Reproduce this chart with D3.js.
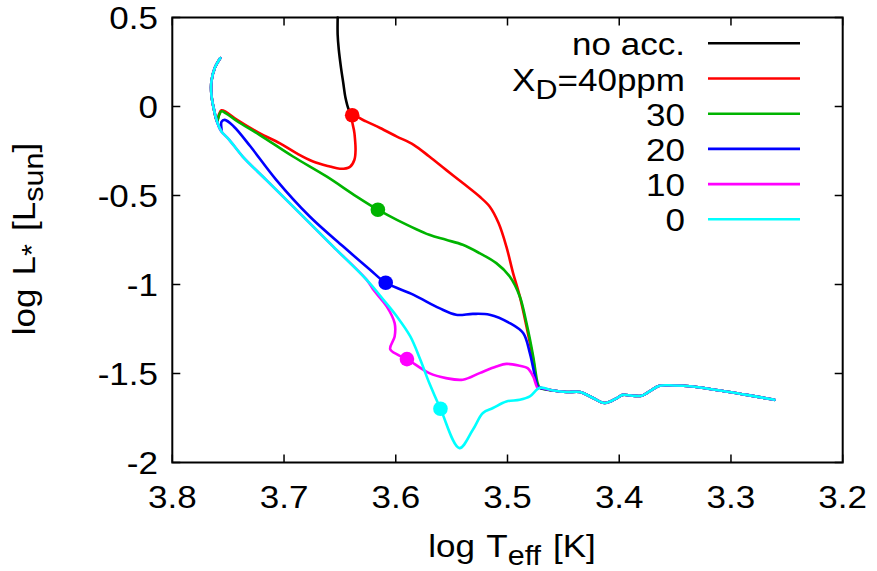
<!DOCTYPE html>
<html><head><meta charset="utf-8">
<script src="https://cdn.jsdelivr.net/npm/d3@7/dist/d3.min.js"></script>
<style>
body{margin:0;background:#fff}
text{font-family:"Liberation Sans",Arial,Helvetica,sans-serif;fill:#000}
</style>
</head><body>
<svg id="chart" width="877" height="571"></svg>
<script>
// ---- axis ticks ----
const xTicks = [3.8, 3.7, 3.6, 3.5, 3.4, 3.3, 3.2];
const yTicks = [0.5, 0, -0.5, -1, -1.5, -2];

// ---- series names and colours (legend order) ----
const seriesKeys   = ["noacc", "xd40", "xd30", "xd20", "xd10", "xd0"];
const seriesColors = ["#000000", "#ff0000", "#00b400", "#0000ff", "#ff00ff", "#00ffff"];

// ---- tracks: [log Teff, log L] ----
// shared low-mass path, from the start (right) to the branching point
const sharedStart = [
  [3.261,-1.648],[3.286,-1.620],[3.310,-1.596],[3.334,-1.573],[3.352,-1.567],
  [3.364,-1.569],[3.373,-1.601],[3.380,-1.625],[3.388,-1.625],[3.397,-1.620],
  [3.402,-1.638],[3.413,-1.666],[3.426,-1.629],[3.435,-1.604],[3.447,-1.604],
  [3.459,-1.596],[3.471,-1.580]
];
// shared final rise at the hot edge
const sharedEnd = [
  [3.760,-0.084],[3.763,-0.009],[3.765,0.066],[3.765,0.140],[3.762,0.216],[3.757,0.272]
];
// common diagonal of the lowest tracks
const lowDiagonal = [
  [3.626,-0.974],[3.656,-0.787],[3.686,-0.599],[3.716,-0.412],[3.737,-0.281],
  [3.749,-0.187],[3.756,-0.140]
];

const noAcc = [
  [3.652,0.500],[3.652,0.403],[3.651,0.319],[3.649,0.217],[3.647,0.133],
  [3.645,0.049],[3.642,-0.019],[3.639,-0.049]
];
const track40 = [
  [3.473,-1.573],[3.477,-1.423],[3.483,-1.236],[3.489,-1.067],[3.495,-0.936],
  [3.501,-0.787],[3.508,-0.655],[3.516,-0.562],[3.525,-0.506],[3.540,-0.430],
  [3.555,-0.356],[3.570,-0.281],[3.584,-0.215],[3.599,-0.169],[3.614,-0.121],
  [3.628,-0.080],[3.639,-0.049],[3.637,-0.149],[3.636,-0.243],[3.637,-0.299],
  [3.641,-0.339],[3.650,-0.350],[3.659,-0.337],[3.674,-0.309],[3.689,-0.262],
  [3.704,-0.206],[3.722,-0.149],[3.742,-0.075],[3.752,-0.030],[3.756,-0.021],
  [3.758,-0.041]
];
const track30 = [
  [3.473,-1.554],[3.477,-1.404],[3.483,-1.217],[3.489,-1.067],[3.498,-0.955],
  [3.510,-0.880],[3.525,-0.824],[3.540,-0.777],[3.555,-0.749],[3.570,-0.721],
  [3.599,-0.637],[3.616,-0.580],[3.635,-0.506],[3.662,-0.393],[3.692,-0.281],
  [3.722,-0.159],[3.742,-0.083],[3.752,-0.038],[3.756,-0.027],[3.758,-0.047]
];
const track20 = [
  [3.473,-1.573],[3.476,-1.498],[3.480,-1.385],[3.486,-1.273],[3.498,-1.217],
  [3.516,-1.170],[3.531,-1.165],[3.546,-1.170],[3.561,-1.133],[3.584,-1.058],
  [3.609,-0.990],[3.623,-0.917],[3.647,-0.787],[3.677,-0.618],[3.707,-0.412],
  [3.730,-0.225],[3.745,-0.112],[3.753,-0.075],[3.756,-0.086],[3.756,-0.140]
];
const track10 = [
  [3.473,-1.582],[3.477,-1.517],[3.482,-1.470],[3.489,-1.457],[3.501,-1.446],
  [3.510,-1.461],[3.525,-1.498],[3.540,-1.535],[3.555,-1.526],[3.570,-1.498],
  [3.590,-1.419],[3.598,-1.395],[3.605,-1.363],[3.601,-1.292],[3.601,-1.217],
  [3.608,-1.124],[3.620,-1.030]
];
const track0 = [
  [3.480,-1.629],[3.489,-1.648],[3.501,-1.657],[3.513,-1.694],[3.522,-1.722],
  [3.531,-1.816],[3.543,-1.919],[3.560,-1.698],[3.570,-1.554],[3.578,-1.423],
  [3.587,-1.292],[3.599,-1.180],[3.611,-1.086]
];

// points where accretion stops (filled circles)
const stopTeff = [3.639, 3.616, 3.609, 3.590, 3.560];
const stopLum  = [-0.049, -0.580, -0.990, -1.419, -1.698];
const stopColors = ["#ff0000", "#00b400", "#0000ff", "#ff00ff", "#00ffff"];

const tracks = {
  noacc: noAcc,
  xd40: sharedStart.concat(track40, sharedEnd),
  xd30: sharedStart.concat(track30, sharedEnd),
  xd20: sharedStart.concat(track20, sharedEnd),
  xd10: sharedStart.concat(track10, lowDiagonal, sharedEnd),
  xd0:  sharedStart.concat(track0, lowDiagonal, sharedEnd)
};

// ---- layout ----
const svg = d3.select("#chart");
const plot = {left: 172.3, right: 842.7, top: 17.5, bottom: 462.5};
const x = d3.scaleLinear().domain([3.8, 3.2]).range([plot.left, plot.right]);
const y = d3.scaleLinear().domain([-2, 0.5]).range([plot.bottom, plot.top]);
const FS = 31, SUB = 27, WIDE = 1.13;

// text anchored at (px,py), slightly widened horizontally
function label(px, py, anchor, extra) {
  return svg.append("text")
    .attr("transform", `translate(${px},${py})${extra || ""} scale(${WIDE},1)`)
    .attr("text-anchor", anchor).attr("font-size", FS);
}

// tracks
const line = d3.line().x(d => x(d[0])).y(d => y(d[1])).curve(d3.curveCatmullRom.alpha(0.5));
seriesKeys.forEach((k, i) => {
  svg.append("path").attr("d", line(tracks[k]))
    .attr("fill", "none").attr("stroke", seriesColors[i])
    .attr("stroke-width", 2.6).attr("stroke-linejoin", "round").attr("stroke-linecap", "round");
});

// accretion stop markers
svg.append("g").selectAll("circle").data(stopTeff).join("circle")
  .attr("cx", d => x(d)).attr("cy", (d, i) => y(stopLum[i])).attr("r", 7.3)
  .attr("fill", (d, i) => stopColors[i]);

// frame and ticks (inward, mirrored)
const axisG = svg.append("g");
const tl = 8;
xTicks.forEach(v => {
  axisG.append("line").attr("x1", x(v)).attr("x2", x(v)).attr("y1", plot.bottom).attr("y2", plot.bottom - tl);
  axisG.append("line").attr("x1", x(v)).attr("x2", x(v)).attr("y1", plot.top).attr("y2", plot.top + tl);
});
yTicks.forEach(v => {
  axisG.append("line").attr("x1", plot.left).attr("x2", plot.left + tl).attr("y1", y(v)).attr("y2", y(v));
  axisG.append("line").attr("x1", plot.right).attr("x2", plot.right - tl).attr("y1", y(v)).attr("y2", y(v));
});
axisG.selectAll("line").attr("stroke", "#000").attr("stroke-width", 1.5);
axisG.append("rect").attr("x", plot.left).attr("y", plot.top)
  .attr("width", plot.right - plot.left).attr("height", plot.bottom - plot.top)
  .attr("fill", "none").attr("stroke", "#000").attr("stroke-width", 2);

// tick labels
xTicks.forEach(v => label(x(v), 508, "middle").text(v.toFixed(1)));
yTicks.forEach(v => label(158, y(v) + 11, "end").text(String(v)));

// axis titles
const xt = label(512, 557, "middle").attr("word-spacing", 2);
xt.append("tspan").text("log T");
xt.append("tspan").attr("font-size", SUB).attr("dy", 8).text("eff");
xt.append("tspan").attr("dy", -8).text(" [K]");

const yt = label(35, 239, "middle", " rotate(-90)").attr("word-spacing", 3);
yt.append("tspan").text("log L");
yt.append("tspan").attr("font-size", SUB).attr("dy", 6).text("*");
yt.append("tspan").attr("dy", -6).text(" [L");
yt.append("tspan").attr("font-size", SUB).attr("dy", 8).text("sun");
yt.append("tspan").attr("dy", -8).text("]");

// legend
const legY0 = 43.3, legStep = 35.2;
seriesKeys.forEach((k, i) => {
  const yy = legY0 + i * legStep;
  svg.append("line").attr("x1", 708).attr("x2", 800).attr("y1", yy).attr("y2", yy)
    .attr("stroke", seriesColors[i]).attr("stroke-width", 2.6);
  const t = label(685, yy + 12, "end");
  if (k === "noacc") t.text("no acc.");
  else if (k === "xd40") {
    t.append("tspan").text("X");
    t.append("tspan").attr("font-size", SUB).attr("dy", 8).text("D");
    t.append("tspan").attr("dy", -8).text("=40ppm");
  } else t.text(k.slice(2));
});
</script>
</body></html>
